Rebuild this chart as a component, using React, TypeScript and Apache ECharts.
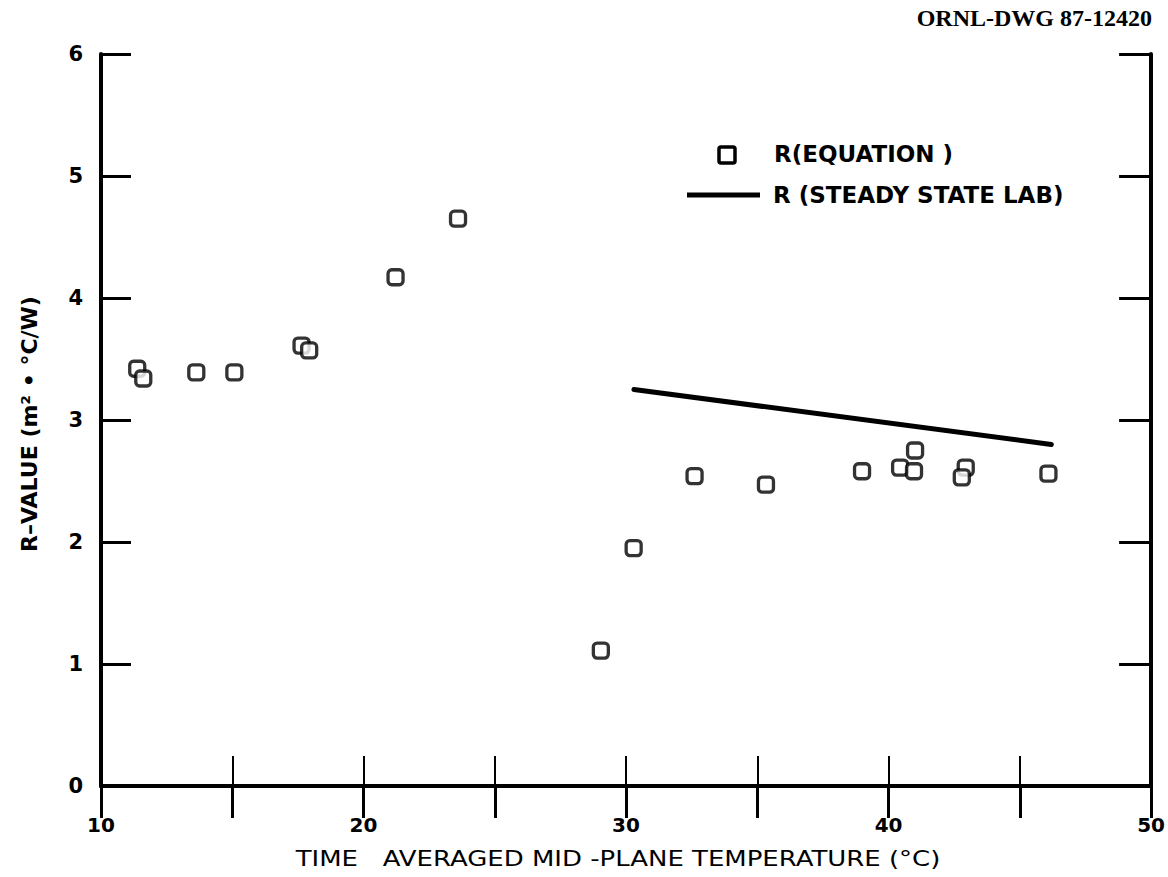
import { useEffect, useRef } from "react";
import * as echarts from "echarts";

// R (equation) data points: time averaged mid-plane temperature (°C) vs R-value
const eqTemps = [11.38, 11.61, 13.63, 15.08, 17.64, 17.93, 21.22, 23.6, 29.04, 30.29, 32.61, 35.33, 38.99, 40.44, 41.01, 40.97, 42.94, 42.79, 46.09];
const eqRValues = [3.42, 3.34, 3.39, 3.39, 3.61, 3.57, 4.17, 4.65, 1.11, 1.95, 2.54, 2.47, 2.58, 2.61, 2.75, 2.58, 2.61, 2.53, 2.56];

// R (steady state lab) line
const labTemps = [30.3, 46.2];
const labRValues = [3.25, 2.8];

const xMin = 10;
const xMax = 50;
const xStep = 5;
const xLabelStep = 10;
const yMin = 0;
const yMax = 6;
const yStep = 1;

const seriesNames = ["R(EQUATION )", "R (STEADY STATE LAB)"];
const xTitle = "TIME   AVERAGED MID -PLANE TEMPERATURE (°C)";
const yTitle = "R–VALUE (m² • °C/W)";
const drawingId = "ORNL-DWG 87-12420";

export default function App() {
  const ref = useRef<HTMLDivElement>(null);

  useEffect(() => {
    document.body.style.margin = "0";
    if (!ref.current) return;
    const chart = echarts.init(ref.current, undefined, { renderer: "svg" });

    const axisLine = { show: true, lineStyle: { color: "#000", width: 4 } };

    chart.setOption({
      animation: false,
      backgroundColor: "#fff",
      grid: { left: 101, right: 13, top: 54, bottom: 91, containLabel: false },
      xAxis: [
        {
          type: "value",
          position: "bottom",
          min: xMin,
          max: xMax,
          interval: xStep,
          axisLine,
          axisTick: { show: true, inside: true, length: 30, lineStyle: { color: "#000", width: 2 } },
          splitLine: { show: false },
          axisLabel: {
            fontFamily: "'DejaVu Sans', sans-serif",
            fontWeight: "bold",
            fontSize: 20,
            color: "#000",
            margin: 29,
            showMinLabel: true,
            showMaxLabel: true,
            formatter: (v: number) => (v % xLabelStep === 0 ? String(v) : ""),
          },
        },
        {
          type: "value",
          position: "top",
          min: xMin,
          max: xMax,
          interval: xStep,
          axisLine,
          axisTick: { show: true, inside: true, length: 32, lineStyle: { color: "#000", width: 3 } },
          splitLine: { show: false },
          axisLabel: { show: false },
        },
      ],
      yAxis: [
        {
          type: "value",
          position: "left",
          min: yMin,
          max: yMax,
          interval: yStep,
          axisLine,
          axisTick: { show: true, inside: true, length: 30, lineStyle: { color: "#000", width: 3 } },
          splitLine: { show: false },
          axisLabel: {
            fontFamily: "'DejaVu Sans', sans-serif",
            fontWeight: "bold",
            fontSize: 21,
            color: "#000",
            margin: 18,
            padding: [8, 0, 0, 0],
          },
        },
        {
          type: "value",
          position: "right",
          min: yMin,
          max: yMax,
          interval: yStep,
          axisLine,
          axisTick: { show: true, inside: true, length: 32, lineStyle: { color: "#000", width: 3 } },
          splitLine: { show: false },
          axisLabel: { show: false },
        },
      ],
      series: [
        {
          name: seriesNames[1],
          type: "line",
          xAxisIndex: 0,
          yAxisIndex: 0,
          data: labTemps.map((t, i) => [t, labRValues[i]]),
          showSymbol: false,
          symbol: "none",
          lineStyle: { color: "#000", width: 5, cap: "round" },
          z: 2,
        },
        {
          name: seriesNames[0],
          type: "scatter",
          xAxisIndex: 0,
          yAxisIndex: 0,
          data: eqTemps.map((t, i) => [t, eqRValues[i]]),
          symbol: "roundRect",
          symbolSize: 15,
          itemStyle: { color: "#fff", borderColor: "#000", borderWidth: 3.3 },
          z: 3,
        },
      ],
      graphic: [
        {
          type: "text",
          right: 16,
          top: 6,
          style: {
            text: drawingId,
            font: "bold 24px 'Liberation Serif', 'DejaVu Serif', serif",
            fill: "#000",
          },
        },
        {
          type: "rect",
          shape: { x: 719, y: 147, width: 16, height: 16, r: 2 },
          style: { fill: "#fff", stroke: "#000", lineWidth: 3.5 },
        },
        {
          type: "text",
          x: 774,
          y: 154,
          style: {
            text: seriesNames[0],
            font: "bold 23px 'DejaVu Sans', sans-serif",
            fill: "#000",
            verticalAlign: "middle",
            align: "left",
          },
        },
        {
          type: "line",
          shape: { x1: 687, y1: 195, x2: 760, y2: 195 },
          style: { stroke: "#000", lineWidth: 5 },
        },
        {
          type: "text",
          x: 773,
          y: 195,
          style: {
            text: seriesNames[1],
            font: "bold 23px 'DejaVu Sans', sans-serif",
            fill: "#000",
            verticalAlign: "middle",
            align: "left",
          },
        },
        {
          type: "text",
          x: 618,
          y: 859,
          scaleX: 1.18,
          style: {
            text: xTitle,
            font: "22px 'DejaVu Sans', sans-serif",
            fill: "#000",
            align: "center",
            verticalAlign: "middle",
          },
        },
        {
          type: "text",
          x: 29,
          y: 424,
          rotation: Math.PI / 2,
          style: {
            text: yTitle,
            font: "bold 22px 'DejaVu Sans', sans-serif",
            fill: "#000",
            align: "center",
            verticalAlign: "middle",
          },
        },
      ],
    });

    return () => chart.dispose();
  }, []);

  return <div ref={ref} style={{ width: 1168, height: 877 }} />;
}
